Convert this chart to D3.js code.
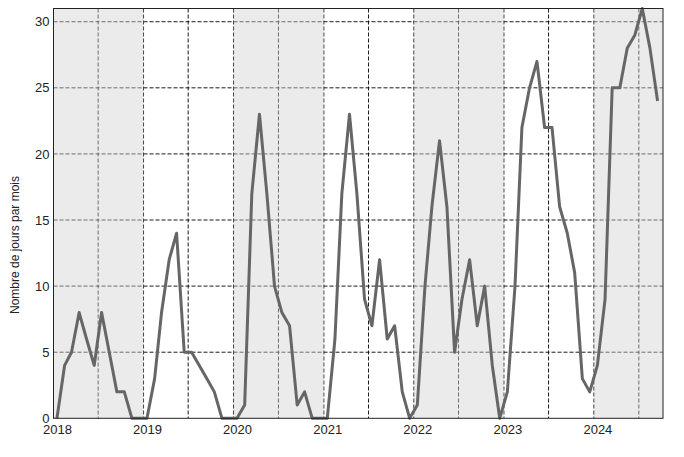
<!DOCTYPE html>
<html>
  <head>
    <meta charset="utf-8">
    <title>Nombre de jours par mois</title>
    <script src="https://d3js.org/d3.v7.min.js"></script>
    <style>
      body { margin: 0; background: #fff; }
      #chart { font-family: "Liberation Sans", Arial, sans-serif; }
      .tick text { font-size: 13px; fill: #222; }
      .grid line { stroke: #000; stroke-width: 0.9; stroke-dasharray: 4,2; }
      .span { fill: #d2d2d2; opacity: 0.45; }
      .series { fill: none; stroke: #666; stroke-width: 3; stroke-linejoin: round; }
      .frame { fill: none; stroke: #222; stroke-width: 1; }
      .ylabel { font-size: 12px; fill: #222; }
    </style>
  </head>
  <body>
    <svg id="chart" width="684" height="457"></svg>
    <script>
      // monthly values, one array per year
      const years = [2018, 2019, 2020, 2021, 2022, 2023, 2024];
      const values2018 = [0, 4, 5, 8, 6, 4, 8, 5, 2, 2, 0, 0];
      const values2019 = [0, 3, 8, 12, 14, 5, 5, 4, 3, 2, 0, 0];
      const values2020 = [0, 1, 17, 23, 17, 10, 8, 7, 1, 2, 0, 0];
      const values2021 = [0, 6, 17, 23, 17, 9, 7, 12, 6, 7, 2, 0];
      const values2022 = [1, 10, 16, 21, 16, 5, 9, 12, 7, 10, 4, 0];
      const values2023 = [2, 10, 22, 25, 27, 22, 22, 16, 14, 11, 3, 2];
      const values2024 = [4, 9, 25, 25, 28, 29, 31, 28, 24];
      const shadedYears = [2018, 2020, 2022, 2024];
      const yTicks = [0, 5, 10, 15, 20, 25, 30];
      const yLabel = "Nombre de jours par mois";

      // build dated series
      const allValues = [values2018, values2019, values2020, values2021, values2022, values2023, values2024];
      const data = [];
      allValues.forEach(function(arr, k) {
        arr.forEach(function(v, m) {
          data.push({ date: new Date(years[k], m, 15), value: v });
        });
      });

      const svg = d3.select("#chart");
      const margin = { left: 53.5, right: 21, top: 8.5, bottom: 38.7 };
      const width = 684 - margin.left - margin.right;
      const height = 457 - margin.top - margin.bottom;

      const x = d3.scaleTime()
        .domain([new Date(2018, 0, 1), new Date(2024, 9, 7)])
        .range([0, width]);
      const y = d3.scaleLinear()
        .domain([0, 31])
        .range([height, 0]);

      const g = svg.append("g")
        .attr("transform", "translate(" + margin.left + "," + margin.top + ")");

      // grid
      const grid = g.append("g").classed("grid", true);
      grid.selectAll(".hgrid")
        .data(yTicks.filter(function(d) { return d > 0; }))
        .enter().append("line")
          .attr("x1", 0)
          .attr("x2", width)
          .attr("y1", function(d) { return y(d); })
          .attr("y2", function(d) { return y(d); });
      const vDates = [];
      years.forEach(function(yr) {
        if (yr > 2018) vDates.push(new Date(yr, 0, 1));
        vDates.push(new Date(yr, 6, 1));
      });
      grid.selectAll(".vgrid")
        .data(vDates)
        .enter().append("line")
          .attr("x1", function(d) { return x(d); })
          .attr("x2", function(d) { return x(d); })
          .attr("y1", 0)
          .attr("y2", height);

      // shaded years
      g.selectAll(".span")
        .data(shadedYears)
        .enter().append("rect")
          .classed("span", true)
          .attr("x", function(d) { return x(new Date(d, 0, 1)); })
          .attr("width", function(d) {
            return Math.min(x(new Date(d + 1, 0, 1)), width) - x(new Date(d, 0, 1));
          })
          .attr("y", 0)
          .attr("height", height);

      // series
      const line = d3.line()
        .x(function(d) { return x(d.date); })
        .y(function(d) { return y(d.value); });
      g.append("path")
        .datum(data)
        .classed("series", true)
        .attr("d", line);

      // axes
      g.append("g")
        .attr("transform", "translate(0," + height + ")")
        .call(d3.axisBottom(x)
          .tickValues(years.map(function(yr) { return new Date(yr, 0, 15); }))
          .tickFormat(d3.timeFormat("%Y"))
          .tickSize(0)
          .tickPadding(6))
        .call(function(a) { a.select(".domain").remove(); });
      g.append("g")
        .call(d3.axisLeft(y)
          .tickValues(yTicks)
          .tickSize(0)
          .tickPadding(4))
        .call(function(a) { a.select(".domain").remove(); });

      g.append("rect")
        .classed("frame", true)
        .attr("width", width)
        .attr("height", height);

      svg.append("text")
        .classed("ylabel", true)
        .attr("transform", "translate(19,245) rotate(-90)")
        .attr("text-anchor", "middle")
        .text(yLabel);
    </script>
  </body>
</html>
